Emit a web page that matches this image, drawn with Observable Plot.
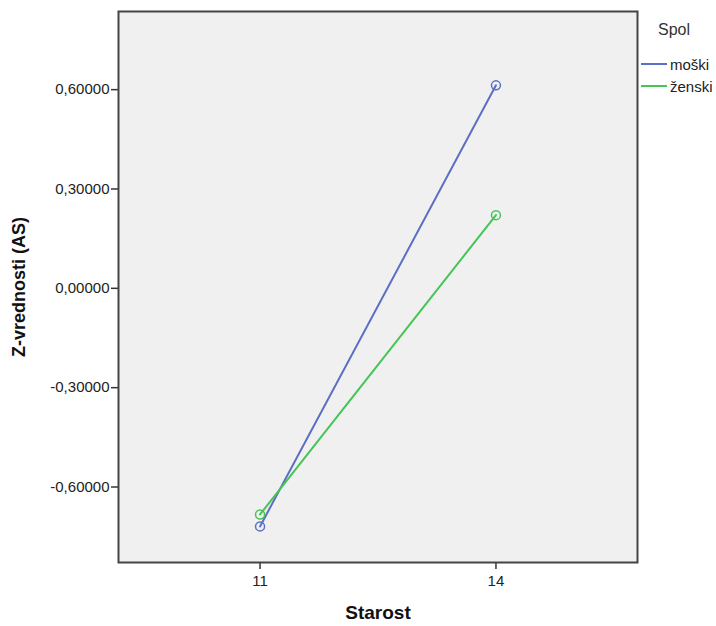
<!DOCTYPE html>
<html>
<head>
<meta charset="utf-8">
<script src="https://cdn.jsdelivr.net/npm/d3@7"></script>
<script src="https://cdn.jsdelivr.net/npm/@observablehq/plot@0.6"></script>
<style>
  html, body { margin: 0; padding: 0; background: #fff; }
  #wrap { position: relative; width: 716px; height: 626px; font-family: "Liberation Sans", Arial, sans-serif; }
  #wrap svg [aria-label="y-axis label"] text { font-size: 18px; font-weight: bold; fill: #111; }
  #wrap svg [aria-label="x-axis label"] text { font-size: 19px; font-weight: bold; fill: #111; }
  #wrap svg [aria-label="y-axis tick label"] text, #wrap svg [aria-label="x-axis tick label"] text { fill: #222; }
  #legend { position: absolute; left: 641px; top: 21px; font-size: 15px; color: #222; }
  #legend .title { margin-left: 17px; font-size: 16px; margin-bottom: 14px; color: #333; }
  #legend .row { display: flex; align-items: center; height: 22px; }
  #legend .sw { width: 26px; height: 2px; margin-right: 3px; }
</style>
</head>
<body>
<div id="wrap"></div>
<script>
const ages = [11, 14];
const groups = ["moški", "ženski"];
const moski = [-0.719, 0.613];
const zenski = [-0.683, 0.221];
const colors = ["#5b6fc4", "#45c556"];
const yTicks = [-0.6, -0.3, 0, 0.3, 0.6];
const xTicks = [11, 14];

const data = [];
ages.forEach((a, i) => data.push({age: a, z: moski[i], spol: groups[0]}));
ages.forEach((a, i) => data.push({age: a, z: zenski[i], spol: groups[1]}));

const fmt = d => d.toFixed(5).replace(".", ",");

const chart = Plot.plot({
  width: 716,
  height: 626,
  marginLeft: 118,
  marginRight: 79,
  marginTop: 11,
  marginBottom: 64,
  style: {fontFamily: "'Liberation Sans', Arial, sans-serif", fontSize: "15px", color: "#222", background: "#fff"},
  x: {domain: [9.2, 15.8], ticks: xTicks, label: "Starost", labelAnchor: "center", labelArrow: "none"},
  y: {domain: [-0.828, 0.836], ticks: yTicks, tickFormat: fmt, label: "Z-vrednosti (AS)", labelAnchor: "center", labelArrow: "none"},
  color: {domain: groups, range: colors},
  marks: [
    Plot.frame({fill: "#f0f0f0", stroke: null}),
    Plot.axisY({ticks: yTicks, tickFormat: fmt, tickSize: 7, tickPadding: 2, stroke: "#333", strokeWidth: 1.5, fontSize: 15, label: "Z-vrednosti (AS)", labelAnchor: "center", labelArrow: "none", labelOffset: 106}),
    Plot.axisX({ticks: xTicks, tickFormat: d => String(d), tickSize: 7, tickPadding: 6, stroke: "#333", strokeWidth: 1.5, fontSize: 15, label: "Starost", labelAnchor: "center", labelArrow: "none", labelOffset: 56}),
    Plot.line(data, {x: "age", y: "z", z: "spol", stroke: "spol", strokeWidth: 2}),
    Plot.dot(data, {x: "age", y: "z", stroke: "spol", r: 4.5, strokeWidth: 1.5}),
    Plot.frame({stroke: "#444", strokeWidth: 2})
  ]
});
document.getElementById("wrap").appendChild(chart);

const legend = document.createElement("div");
legend.id = "legend";
legend.innerHTML = `<div class="title">Spol</div>` +
  groups.map((g, i) => `<div class="row"><div class="sw" style="background:${colors[i]}"></div><span>${g}</span></div>`).join("");
document.getElementById("wrap").appendChild(legend);
</script>
</body>
</html>
